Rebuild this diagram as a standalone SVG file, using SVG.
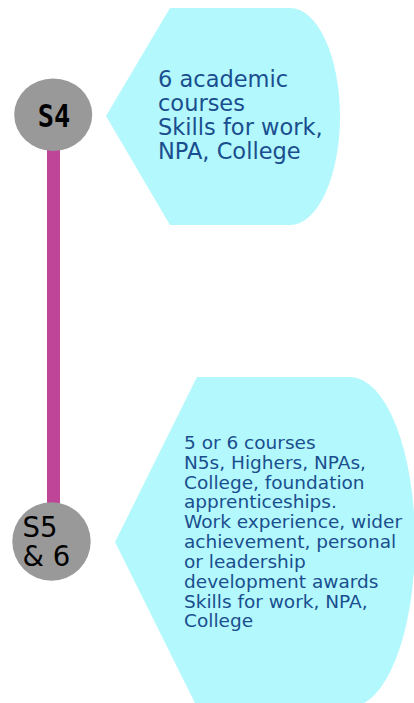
<svg xmlns="http://www.w3.org/2000/svg" width="414" height="703" viewBox="0 0 414 703">
<style>
.bubble{fill:#b2f8fc}
.node{fill:#999999}
.desc{font-family:"DejaVu Sans",Verdana,sans-serif;fill:#1a4e8e}
.conn{stroke:#bf4599;stroke-width:13;fill:none}
</style>
<rect width="414" height="703" fill="#ffffff"/>
<g id="connectors">
<line class="conn" x1="53.5" y1="114" x2="53.5" y2="541"/>
</g>
<g id="info-s4">
<path class="bubble" d="M170,8 L290,8 A50,108.5 0 0 1 290,225 L170,225 L106,116 Z"/>
<text class="desc" font-size="22.5"><tspan x="158" y="87">6 academic</tspan><tspan x="158" y="111">courses</tspan><tspan x="158" y="135">Skills for work,</tspan><tspan x="158" y="159">NPA, College</tspan></text>
</g>
<g id="info-s56">
<path class="bubble" d="M197,377 L350,377 A65,165 0 0 1 350,707 L197,707 L115,542 Z"/>
<text class="desc" font-size="18.5"><tspan x="184" y="449">5 or 6 courses</tspan><tspan x="184" y="469">N5s, Highers, NPAs,</tspan><tspan x="184" y="488.5">College, foundation</tspan><tspan x="184" y="508">apprenticeships.</tspan><tspan x="184" y="528">Work experience, wider</tspan><tspan x="184" y="548">achievement, personal</tspan><tspan x="184" y="568">or leadership</tspan><tspan x="184" y="588">development awards</tspan><tspan x="184" y="607.5">Skills for work, NPA,</tspan><tspan x="184" y="627">College</tspan></text>
</g>
<g id="node-s4">
<ellipse class="node" cx="53.2" cy="114.7" rx="39" ry="36.3"/>
<text transform="translate(54,127) scale(1,1.17)" x="0" y="0" font-family="'DejaVu Sans Mono',monospace" font-weight="bold" font-size="27" text-anchor="middle" fill="#000">S4</text>
</g>
<g id="node-s56">
<ellipse class="node" cx="51.5" cy="541.5" rx="39.2" ry="39.2"/>
<text font-family="'DejaVu Sans',sans-serif" font-size="27.5" fill="#000"><tspan x="22.5" y="537">S5</tspan><tspan x="22.5" y="566">&amp; 6</tspan></text>
</g>
</svg>
